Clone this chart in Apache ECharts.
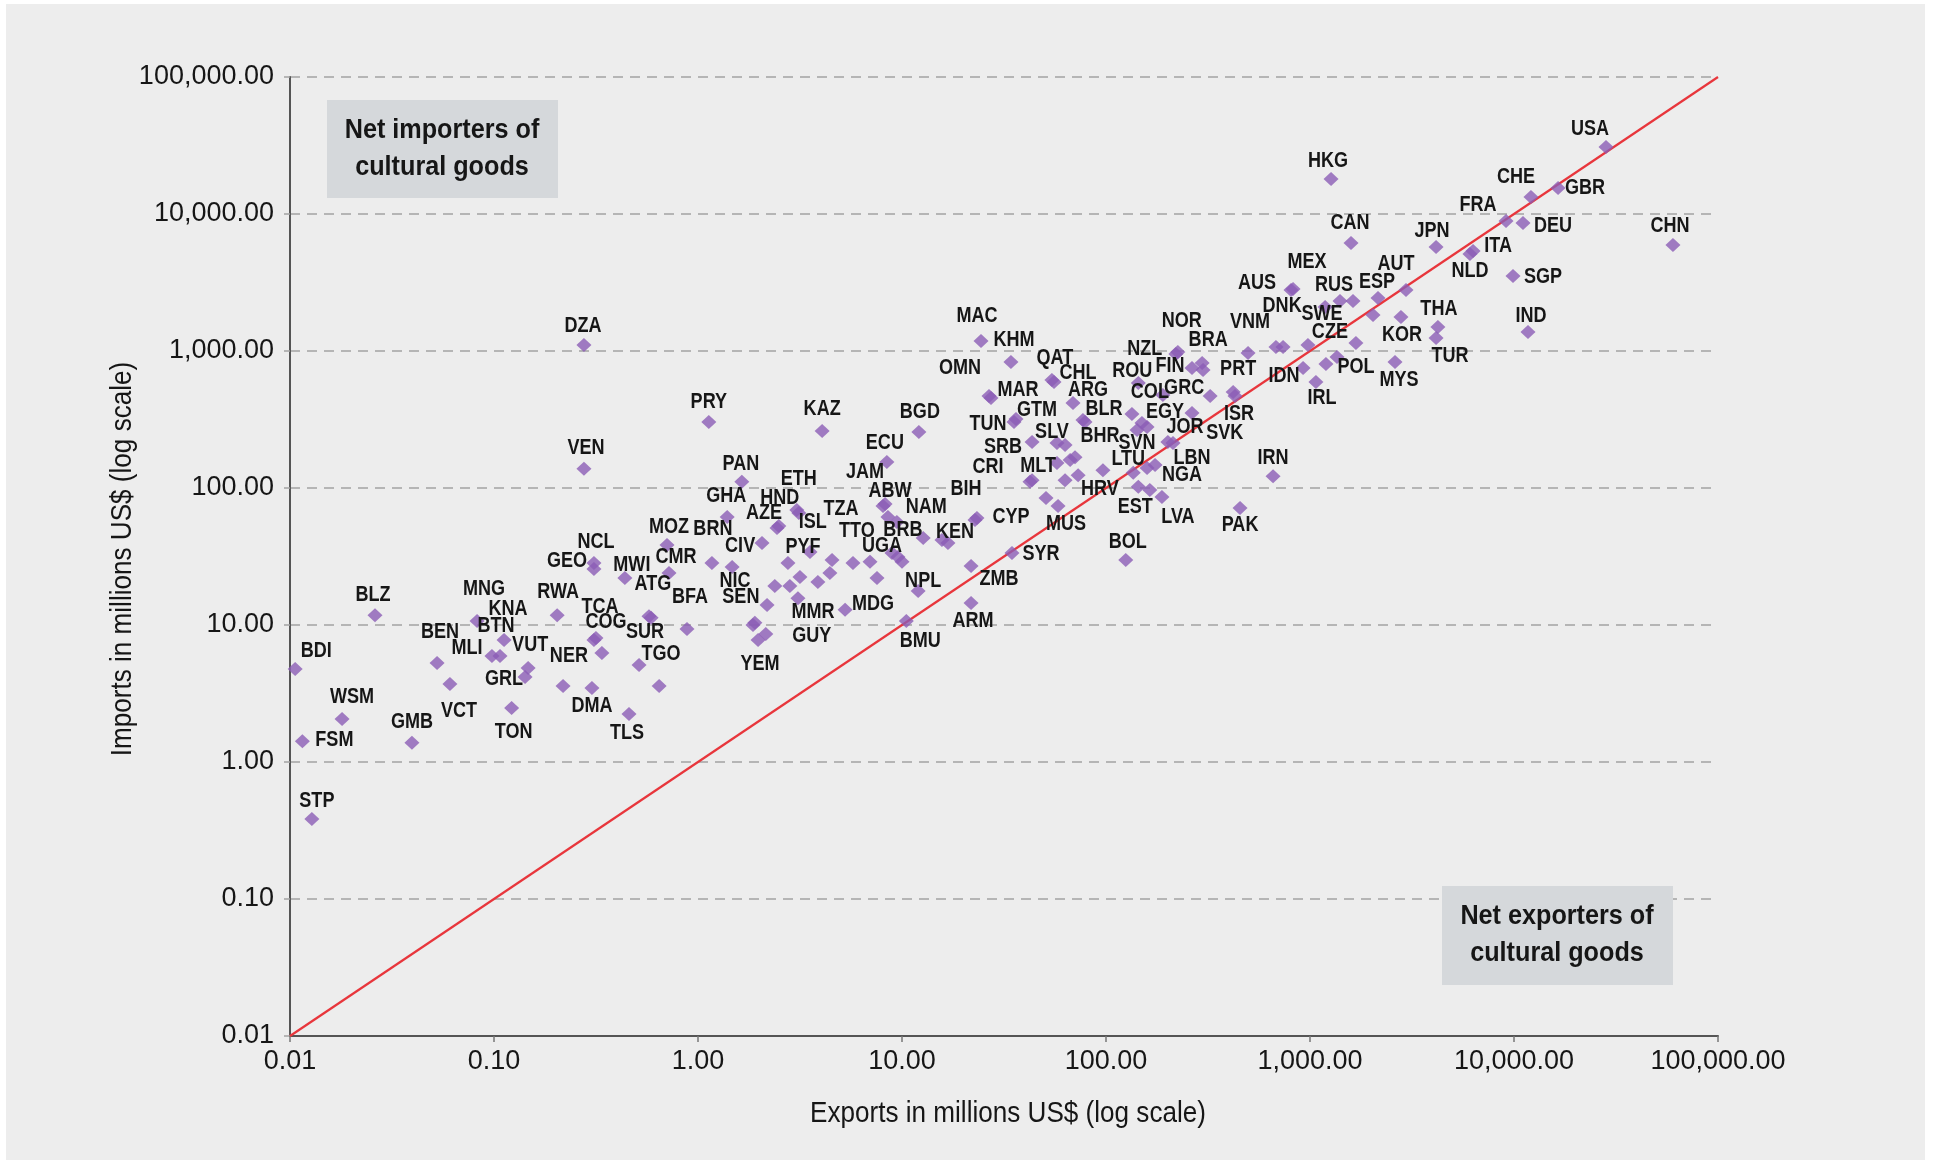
<!DOCTYPE html>
<html>
<head>
<meta charset="utf-8">
<script src="https://cdn.jsdelivr.net/npm/echarts/dist/echarts.min.js"></script>
<style>
  html, body { margin: 0; padding: 0; background: #ffffff; }
  #chart { position: absolute; left: 6px; top: 4px; width: 1919px; height: 1156px; }
</style>
</head>
<body>
<div id="chart"></div>
<script>
// Cultural goods trade by country, millions US$
const countries = ['USA','HKG','CHE','GBR','FRA','DEU','CAN','JPN','ITA','NLD','CHN','SGP','IND','AUT','ESP','RUS','AUS','MEX','DNK','SWE','CZE','VNM','IDN','POL','IRL','KOR','THA','TUR','MYS','NOR','NZL','BRA','FIN','PRT','GRC','COL','ROU','ISR','EGY','JOR','SVK','LBN','NGA','LTU','SVN','BLR','BHR','ARG','CHL','QAT','KHM','MAC','OMN','MAR','TUN','GTM','SRB','SLV','CRI','MLT','HRV','MUS','EST','LVA','BOL','PAK','IRN','SYR','ZMB','ARM','BMU','CYP','BIH','KEN','NPL','MDG','MMR','GUY','YEM','SEN','NIC','PAN','GHA','MOZ','BRN','CIV','CMR','MWI','NCL','GEO','ATG','SUR','BFA','TGO','COG','TCA','NER','DMA','TLS','RWA','PYF','AZE','HND','ETH','ISL','TZA','TTO','UGA','BRB','ABW','JAM','NAM','ECU','BGD','KAZ','PRY','VEN','DZA','BLZ','BDI','FSM','WSM','STP','GMB','TON','VCT','BEN','MLI','BTN','MNG','KNA','VUT','GRL'];

const exportsUSD = [28250,1268,12110,16440,9140,11070,1589,4150,6300,6080,60150,9890,11710,2955,2155,1403,807,826,1186,977,1679,497,925,1197,1069,2792,4236,4150,2610,225,220,296,264,420,324,190,144,429,264,213,201,174,159,136,142,77.1,78.9,68.9,55.6,54.3,34.2,24.4,26.7,27.3,35.4,36.2,43.4,57.5,42.4,43.4,96.6,58.2,144,188,125,454,659,34.6,21.8,21.8,10.5,23.3,22.8,16.8,12.0,5.26,3.09,2.15,1.97,1.90,1.86,1.64,1.39,0.705,1.17,1.47,0.721,0.438,0.309,0.309,0.575,0.589,0.883,0.514,0.309,0.316,0.338,0.302,0.459,0.204,3.54,2.44,2.49,3.05,3.12,4.54,5.75,9.55,9.44,8.07,8.26,12.7,8.43,12.1,4.06,1.13,0.276,0.276,0.0261,0.0106,0.0115,0.0180,0.0128,0.0396,0.122,0.0608,0.0526,0.0977,0.107,0.0826,0.112,0.147,0.142];

const importsUSD = [30830,17990,13300,15490,8890,8590,6140,5740,5370,5110,5940,3530,1376,2788,2437,2317,2788,2838,2094,1107,1143,966,752,803,594,1770,1496,1245,832,984,951,817,752,502,470,477,583,470,352,213,217,147,140,129,265,313,303,417,594,614,832,1183,470,454,303,319,217,213,111,114,135,73.9,102,85.9,29.8,71.4,122,33.6,27.0,14.5,10.7,60.4,58.4,39.7,17.7,12.9,15.7,8.59,7.78,10.4,10.0,111,61.4,38.4,28.4,26.5,24.0,22.0,28.4,25.6,11.6,11.3,9.35,5.10,7.78,8.04,6.25,3.47,2.24,11.8,34.1,51.1,52.8,69.0,65.7,29.8,28.4,31.3,56.5,73.9,76.4,43.2,155,256,261,303,138,1107,11.8,4.78,1.42,2.06,0.384,1.38,2.48,3.71,5.28,5.94,5.94,10.7,7.78,4.85,4.17];

// Economies shown without a code label
const otherExports = [1625,681,738,1356,2037,299,150,159,134,63.0,70.5,66.7,63.0,73.0,50.8,164,57.5,15.7,8.53,8.93,10.0,2.18,2.38,2.82,3.16,3.87,4.43,6.97,7.54,2.76,2.06,0.645,0.218];
const otherImports = [2317,1069,1069,904,1833,726,298,279,347,206,168,160,114,124,84.5,96.6,152,41.7,61.4,33.6,28.9,14.0,19.3,19.3,22.4,20.6,24.0,28.9,22.0,28.4,39.7,3.59,3.59];

// Axis ticks (log scale, one per decade)
const tickValues = [0.01, 0.1, 1, 10, 100, 1000, 10000, 100000];
const tickLabels = ['0.01','0.10','1.00','10.00','100.00','1,000.00','10,000.00','100,000.00'];

// Where each code label sits relative to its marker (px)
const labelNudge = {
  USA:[-16,-18], HKG:[-3,-18], CHE:[-15,-20], GBR:[27,0], FRA:[-28,-16], DEU:[30,3], CAN:[-1,-20], JPN:[-4,-16],
  ITA:[25,-5], NLD:[0,17], CHN:[-3,-19], SGP:[30,1], IND:[3,-16], AUT:[-10,-26], ESP:[-1,-16], RUS:[-6,-16],
  AUS:[-34,-7], MEX:[14,-27], DNK:[-43,-1], SWE:[14,-31], CZE:[-26,-11], VNM:[2,-31], IDN:[-19,8], POL:[30,3],
  IRL:[6,16], KOR:[1,18], THA:[1,-18], TUR:[14,18], MYS:[4,18], NOR:[4,-31], NZL:[-31,-5], BRA:[6,-23],
  FIN:[-22,-2], PRT:[5,-23], GRC:[-26,-8], COL:[-13,-3], ROU:[-6,-12], ISR:[4,18], EGY:[-27,-1], JOR:[12,-16],
  SVK:[57,-9], LBN:[37,-7], NGA:[35,7], LTU:[-5,-14], SVN:[0,13], BLR:[21,-11], BHR:[15,14], ARG:[15,-13],
  CHL:[24,-9], QAT:[3,-22], KHM:[3,-22], MAC:[-4,-25], OMN:[-29,-28], MAR:[27,-8], TUN:[-26,2], GTM:[21,-9],
  SRB:[-29,5], SLV:[-5,-11], CRI:[-42,-15], MLT:[6,-14], HRV:[-3,19], MUS:[8,18], EST:[-3,20], LVA:[16,20],
  BOL:[2,-18], PAK:[0,17], IRN:[0,-18], SYR:[29,1], ZMB:[28,13], ARM:[2,18], BMU:[14,20], CYP:[34,-1],
  BIH:[-9,-31], KEN:[7,-11], NPL:[5,-10], MDG:[28,-6], MMR:[15,14], GUY:[46,2], YEM:[2,24], SEN:[-14,-26],
  NIC:[-18,-44], PAN:[-1,-18], GHA:[-1,-21], MOZ:[2,-18], BRN:[1,-34], CIV:[8,-21], CMR:[7,-16], MWI:[7,-13],
  NCL:[2,-21], GEO:[-27,-8], ATG:[4,-32], SUR:[-6,14], BFA:[3,-32], TGO:[22,-11], COG:[12,-18], TCA:[4,-31],
  NER:[-33,3], DMA:[0,18], TLS:[-2,19], RWA:[1,-23], PYF:[-7,-5], AZE:[-13,-15], HND:[1,-28], ETH:[2,-31],
  ISL:[14,9], TZA:[9,-51], TTO:[4,-32], UGA:[-16,-11], BRB:[6,8], ABW:[7,-15], JAM:[-20,-32], NAM:[3,-31],
  ECU:[-2,-19], BGD:[1,-20], KAZ:[0,-22], PRY:[0,-20], VEN:[2,-21], DZA:[-1,-19], BLZ:[-2,-20], BDI:[21,-18],
  FSM:[32,-1], WSM:[10,-22], STP:[5,-18], GMB:[0,-21], TON:[2,24], VCT:[9,27], BEN:[3,-31], MLI:[-25,-8],
  BTN:[-4,-30], MNG:[7,-32], KNA:[4,-31], VUT:[2,-23], GRL:[-21,2]
};

const sansFace = '"Liberation Sans", Arial, sans-serif';
const purple = '#8b5db5';
const ink = '#161616';
const narrow = 0.82;   // horizontal squeeze for the condensed lettering

const labelledPoints = countries.map((c, i) => [exportsUSD[i], importsUSD[i]]);
const otherPoints = otherExports.map((x, i) => [x, otherImports[i]]);

const fmtTick = v => {
  const k = Math.round(Math.log10(v));
  const idx = tickValues.findIndex(t => Math.round(Math.log10(t)) === k);
  return idx >= 0 ? tickLabels[idx] : '';
};

// condensed caption text
const caption = (text, x, y, size, opts = {}) => ({
  type: 'text', x, y, scaleX: opts.squeeze || 0.88, rotation: opts.rotation || 0, z: 10,
  style: {
    text, font: (opts.weight || 'bold') + ' ' + size + 'px ' + sansFace, fill: ink,
    align: 'center', verticalAlign: 'middle', lineHeight: opts.lineHeight || size
  }
});

const chart = echarts.init(document.getElementById('chart'), null, { renderer: 'canvas' });
chart.setOption({
  backgroundColor: '#ededed',
  animation: false,
  grid: { left: 284, top: 73, right: 207, bottom: 124, containLabel: false },
  xAxis: {
    type: 'log', logBase: 10, min: tickValues[0], max: tickValues[tickValues.length - 1], splitNumber: 7,
    axisLine: { lineStyle: { color: '#555555', width: 2 } },
    axisTick: { show: true, length: 6, lineStyle: { color: '#777777', width: 1.5 } },
    axisLabel: { formatter: fmtTick, fontFamily: sansFace, fontSize: 27, color: ink, margin: 12 },
    splitLine: { show: false }
  },
  yAxis: {
    type: 'log', logBase: 10, min: tickValues[0], max: tickValues[tickValues.length - 1], splitNumber: 7,
    axisLine: { lineStyle: { color: '#555555', width: 2 } },
    axisTick: { show: true, length: 6, lineStyle: { color: '#a3a3a3', width: 1.5 } },
    axisLabel: { formatter: fmtTick, fontFamily: sansFace, fontSize: 27, color: ink, margin: 16 },
    splitLine: { show: true, lineStyle: { color: '#a3a3a3', width: 1.5, type: [10, 7] } }
  },
  graphic: [
    { type: 'rect', x: 321, y: 96, shape: { width: 231, height: 98 }, style: { fill: '#d5d8db' }, z: 5 },
    caption('Net importers of\ncultural goods', 436, 145, 28, { lineHeight: 37, squeeze: 0.9 }),
    { type: 'rect', x: 1436, y: 882, shape: { width: 231, height: 99 }, style: { fill: '#d5d8db' }, z: 5 },
    caption('Net exporters of\ncultural goods', 1551, 931, 28, { lineHeight: 37, squeeze: 0.9 }),
    caption('Exports in millions US$ (log scale)', 1002, 1110, 29, { weight: 'normal', squeeze: 0.9 }),
    caption('Imports in millions US$ (log scale)', 117, 555, 29, { weight: 'normal', squeeze: 0.9, rotation: Math.PI / 2 })
  ],
  series: [
    {
      type: 'line', name: 'parity', silent: true, symbol: 'none', z: 1,
      data: [[tickValues[0], tickValues[0]], [tickValues[tickValues.length - 1], tickValues[tickValues.length - 1]]],
      lineStyle: { color: '#e8363c', width: 2.2 }
    },
    {
      type: 'scatter', name: 'other', silent: true, symbol: 'diamond', symbolSize: [15, 14], z: 2,
      itemStyle: { color: purple },
      data: otherPoints
    },
    {
      type: 'scatter', name: 'countries', silent: true, symbol: 'diamond', symbolSize: [15, 14], z: 3,
      itemStyle: { color: purple },
      data: labelledPoints
    },
    {
      // country codes next to their markers
      type: 'custom', name: 'codes', silent: true, z: 4, clip: false,
      encode: { x: 0, y: 1 },
      data: labelledPoints,
      renderItem: (params, api) => {
        const p = api.coord([api.value(0), api.value(1)]);
        const code = countries[params.dataIndex];
        const n = labelNudge[code] || [0, -20];
        return {
          type: 'text', x: p[0] + n[0], y: p[1] + n[1], scaleX: narrow,
          style: { text: code, font: 'bold 22px ' + sansFace, fill: ink, align: 'center', verticalAlign: 'middle' }
        };
      }
    }
  ]
});
</script>
</body>
</html>
